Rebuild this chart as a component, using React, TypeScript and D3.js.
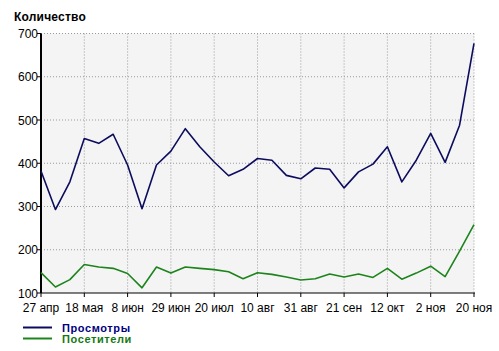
import React from "react";
import * as d3 from "d3";

const tickLabels = ["27 апр", "18 мая", "8 июн", "29 июн", "20 июл", "10 авг", "31 авг", "21 сен", "12 окт", "2 ноя", "20 ноя"];
const tickIndices = [0, 3, 6, 9, 12, 15, 18, 21, 24, 27, 30];
const yTicks = [100, 200, 300, 400, 500, 600, 700];

const views = [382, 293, 357, 457, 446, 467, 396, 295, 396, 428, 480, 438, 403, 371, 386, 411, 407, 372, 364, 389, 386, 343, 380, 398, 438, 357, 407, 469, 402, 488, 677];
const visitors = [147, 114, 131, 166, 160, 157, 145, 112, 160, 146, 160, 157, 154, 149, 133, 147, 143, 137, 130, 133, 144, 137, 144, 136, 157, 132, 146, 162, 138, 197, 258];

const seriesNames = ["Просмотры", "Посетители"];
const seriesColors = ["#0c0c5e", "#1d841d"];
const legendTextColors = ["#000080", "#127a12"];

export default function App() {
  const W = 499, H = 351;
  const left = 41, right = 474, top = 33.5, bottom = 293;
  const x = d3.scaleLinear().domain([0, 30]).range([left, right]);
  const y = d3.scaleLinear().domain([100, 700]).range([bottom, top]);
  const line = d3.line<number>().x((_, i) => x(i)).y((d) => y(d));
  const font = "'Liberation Sans', Arial, sans-serif";

  return (
    <svg width={W} height={H} style={{ position: "absolute", left: 0, top: 0, background: "#fff" }} fontFamily={font}>
      <text x={14} y={20.5} fontSize={12} fontWeight="bold" fill="#000" letterSpacing={0.2}>Количество</text>
      <rect x={left} y={top} width={right - left} height={bottom - top} fill="#f4f4f4" />
      {yTicks.filter((t) => t > 100).map((t) => (
        <line key={"gy" + t} x1={left} x2={right} y1={y(t)} y2={y(t)} stroke="#9a9a9a" strokeDasharray="1,2" />
      ))}
      {tickIndices.filter((i) => i > 0).map((i) => (
        <line key={"gx" + i} x1={x(i)} x2={x(i)} y1={top} y2={bottom} stroke="#9a9a9a" strokeDasharray="1,2" />
      ))}
      <line x1={left} x2={left} y1={top} y2={bottom} stroke="#000" strokeWidth={2} />
      <line x1={left} x2={right + 1} y1={bottom} y2={bottom} stroke="#000" strokeWidth={1} />
      {yTicks.map((t) => (
        <g key={"yt" + t}>
          <line x1={left - 4} x2={left} y1={y(t)} y2={y(t)} stroke="#000" />
          <text x={38} y={y(t) + 4.5} fontSize={12} textAnchor="end" fill="#000">{t}</text>
        </g>
      ))}
      {tickIndices.map((i, k) => (
        <g key={"xt" + i}>
          <line x1={x(i)} x2={x(i)} y1={bottom} y2={bottom + 4} stroke="#000" />
          <text x={x(i)} y={312} fontSize={12} textAnchor="middle" fill="#000">{tickLabels[k]}</text>
        </g>
      ))}
      <path d={line(visitors) || ""} fill="none" stroke={seriesColors[1]} strokeWidth={1.6} strokeLinejoin="round" />
      <path d={line(views) || ""} fill="none" stroke={seriesColors[0]} strokeWidth={1.6} strokeLinejoin="round" />
      {seriesNames.map((n, k) => (
        <g key={n}>
          <line x1={23} x2={52} y1={327.5 + k * 11} y2={327.5 + k * 11} stroke={seriesColors[k]} strokeWidth={2} />
          <text x={62} y={331.5 + k * 11} fontSize={11} fontWeight="bold" fill={legendTextColors[k]} letterSpacing={0.6}>{n}</text>
        </g>
      ))}
    </svg>
  );
}
